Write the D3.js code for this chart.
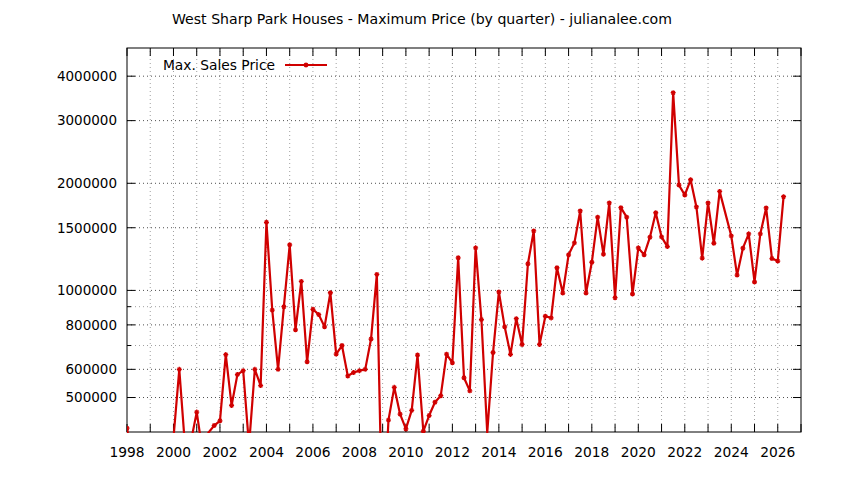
<!DOCTYPE html>
<html>
<head>
<meta charset="utf-8">
<script src="https://cdn.jsdelivr.net/npm/d3@7/dist/d3.min.js"></script>
<style>
  body { margin: 0; background: #fff; }
  svg { display: block; font-family: "DejaVu Sans", sans-serif; }
</style>
</head>
<body>
<svg id="chart" width="844" height="480"></svg>
<script>
// Quarter start (decimal year) and the maximum sale price in that quarter.
// Points below 400000 fall under the plot floor and are clipped, as in the original.
const quarters = [
  1998.00, 1998.25, 1998.50, 1998.75, 1999.00, 1999.25, 1999.50, 1999.75,
  2000.00, 2000.25, 2000.50, 2000.75, 2001.00, 2001.25, 2001.50, 2001.75,
  2002.00, 2002.25, 2002.50, 2002.75, 2003.00, 2003.25, 2003.50, 2003.75,
  2004.00, 2004.25, 2004.50, 2004.75, 2005.00, 2005.25, 2005.50, 2005.75,
  2006.00, 2006.25, 2006.50, 2006.75, 2007.00, 2007.25, 2007.50, 2007.75,
  2008.00, 2008.25, 2008.50, 2008.75, 2009.00, 2009.25, 2009.50, 2009.75,
  2010.00, 2010.25, 2010.50, 2010.75, 2011.00, 2011.25, 2011.50, 2011.75,
  2012.00, 2012.25, 2012.50, 2012.75, 2013.00, 2013.25, 2013.50, 2013.75,
  2014.00, 2014.25, 2014.50, 2014.75, 2015.00, 2015.25, 2015.50, 2015.75,
  2016.00, 2016.25, 2016.50, 2016.75, 2017.00, 2017.25, 2017.50, 2017.75,
  2018.00, 2018.25, 2018.50, 2018.75, 2019.00, 2019.25, 2019.50, 2019.75,
  2020.00, 2020.25, 2020.50, 2020.75, 2021.00, 2021.25, 2021.50, 2021.75,
  2022.00, 2022.25, 2022.50, 2022.75, 2023.00, 2023.25, 2023.50,
  2024.00, 2024.25, 2024.50, 2024.75, 2025.00, 2025.25, 2025.50, 2025.75,
  2026.00, 2026.25
];
const maxPrice = [
  410000, 330000, 350000, 320000, 360000, 340000, 375000, 365000,
  385000, 600000, 362000, 376000, 455000, 353000, 398000, 417000,
  430000, 660000, 475000, 580000, 595000, 366000, 600000, 540000,
  1554000, 880000, 600000, 900000, 1343000, 775000, 1060000, 630000,
  885000, 855000, 790000, 985000, 662000, 700000, 575000, 588000,
  595000, 600000, 730000, 1109000, 200000, 432000, 534000, 449000,
  408000, 460000, 658000, 402000, 445000, 485000, 506000, 662000,
  626000, 1235000, 568000, 522000, 1317000, 828000, 398000, 669000,
  990000, 790000, 661000, 833000, 705000, 1188000, 1469000, 705000,
  846000, 837000, 1158000, 983000, 1259000, 1360000, 1672000, 983000,
  1200000, 1606000, 1264000, 1761000, 954000, 1708000, 1606000, 977000,
  1317000, 1259000, 1411000, 1653000, 1414000, 1328000, 3594000, 1977000,
  1854000, 2046000, 1716000, 1232000, 1761000, 1357000, 1898000,
  1423000, 1104000, 1314000, 1442000, 1056000, 1442000, 1705000, 1229000,
  1209000, 1834000
];

const yLabelTicks = [500000, 600000, 800000, 1000000, 1500000, 2000000, 3000000, 4000000];
const yMinorTicks = [700000, 900000];
const xLabelYears = [1998, 2000, 2002, 2004, 2006, 2008, 2010, 2012, 2014, 2016, 2018, 2020, 2022, 2024, 2026];

const titleText = "West Sharp Park Houses - Maximum Price (by quarter) - julianalee.com";
const seriesName = "Max. Sales Price";

const lineColor = "#d00000";
const margin = { left: 127, right: 43, top: 48, bottom: 48 };
const width = 844, height = 480;

const svg = d3.select("#chart");

let x = d3.scaleLinear()
    .domain([1998, 2027])
    .range([margin.left, width - margin.right]);
let y = d3.scaleLog()
    .domain([400000, 4800000])
    .range([height - margin.bottom, margin.top]);

const x0 = x.range()[0], x1 = x.range()[1];
const yb = y.range()[0], yt = y.range()[1];

const data = quarters.map((t, i) => ({ t: t, v: maxPrice[i] }));
const everyYear = d3.range(1998, 2028);

// Grid: yearly verticals, horizontals at labelled and unlabelled y ticks
let grid = svg.append("g").attr("class", "grid");
grid.selectAll(".vgrid")
    .data(everyYear.filter(d => d > 1998 && d < 2027))
    .join("line")
    .attr("x1", d => x(d)).attr("x2", d => x(d))
    .attr("y1", yb).attr("y2", yt)
    .attr("stroke", "#a0a0a0")
    .attr("stroke-dasharray", "1,3");
grid.selectAll(".hgrid")
    .data(yLabelTicks)
    .join("line")
    .attr("x1", x0).attr("x2", x1)
    .attr("y1", d => y(d)).attr("y2", d => y(d))
    .attr("stroke", "#505050")
    .attr("stroke-dasharray", "1,3");
grid.selectAll(".hminor")
    .data(yMinorTicks)
    .join("line")
    .attr("x1", x0).attr("x2", x1)
    .attr("y1", d => y(d)).attr("y2", d => y(d))
    .attr("stroke", "#a0a0a0")
    .attr("stroke-dasharray", "1,3");

// Ticks point inwards and are mirrored on the opposite side
let ticks = svg.append("g").attr("stroke", "#000").attr("stroke-width", 1);
everyYear.filter(d => d <= 2027).forEach(d => {
    ticks.append("line").attr("x1", x(d)).attr("x2", x(d)).attr("y1", yb).attr("y2", yb - 8);
    ticks.append("line").attr("x1", x(d)).attr("x2", x(d)).attr("y1", yt).attr("y2", yt + 8);
});
yLabelTicks.forEach(d => {
    ticks.append("line").attr("x1", x0).attr("x2", x0 + 8).attr("y1", y(d)).attr("y2", y(d));
    ticks.append("line").attr("x1", x1).attr("x2", x1 - 8).attr("y1", y(d)).attr("y2", y(d));
});
yMinorTicks.forEach(d => {
    ticks.append("line").attr("x1", x0).attr("x2", x0 + 4).attr("y1", y(d)).attr("y2", y(d));
    ticks.append("line").attr("x1", x1).attr("x2", x1 - 4).attr("y1", y(d)).attr("y2", y(d));
});

// Tick labels
svg.append("g")
    .selectAll("text")
    .data(yLabelTicks)
    .join("text")
    .attr("x", x0 - 10)
    .attr("y", d => y(d))
    .attr("dy", "0.36em")
    .attr("text-anchor", "end")
    .attr("font-size", "13.5px")
    .attr("fill", "#000")
    .text(d => d3.format("d")(d));
svg.append("g")
    .selectAll("text")
    .data(xLabelYears)
    .join("text")
    .attr("x", d => x(d))
    .attr("y", yb + 25)
    .attr("text-anchor", "middle")
    .attr("font-size", "13.8px")
    .attr("fill", "#000")
    .text(d => d);

// Border
svg.append("rect")
    .attr("x", x0).attr("y", yt)
    .attr("width", x1 - x0).attr("height", yb - yt)
    .attr("fill", "none")
    .attr("stroke", "#000");

// Series, clipped to the plot box
svg.append("clipPath").attr("id", "plot-clip")
    .append("rect")
    .attr("x", x0).attr("y", yt)
    .attr("width", x1 - x0).attr("height", yb - yt + 1);

let plot = svg.append("g").attr("clip-path", "url(#plot-clip)");

const line = d3.line()
    .x(d => x(d.t))
    .y(d => y(d.v));

plot.append("path")
    .datum(data)
    .attr("d", line)
    .attr("fill", "none")
    .attr("stroke", lineColor)
    .attr("stroke-width", 2.2)
    .attr("stroke-linejoin", "round");

// small star markers (gnuplot pointtype 3 look)
function star(sel, cx, cy) {
    const r = 2.5;
    sel.append("path")
        .attr("d", `M${cx - r},${cy}H${cx + r}M${cx},${cy - r}V${cy + r}` +
                   `M${cx - r * 0.7},${cy - r * 0.7}L${cx + r * 0.7},${cy + r * 0.7}` +
                   `M${cx - r * 0.7},${cy + r * 0.7}L${cx + r * 0.7},${cy - r * 0.7}`)
        .attr("stroke", lineColor)
        .attr("stroke-width", 1.3)
        .attr("fill", "none");
}
data.filter(d => d.v >= y.domain()[0]).forEach(d => star(plot, x(d.t), y(d.v)));

// Key
let key = svg.append("g");
key.append("text")
    .attr("x", 275).attr("y", 70)
    .attr("text-anchor", "end")
    .attr("font-size", "13.8px")
    .attr("fill", "#000")
    .text(seriesName);
key.append("line")
    .attr("x1", 285).attr("x2", 327)
    .attr("y1", 65).attr("y2", 65)
    .attr("stroke", lineColor)
    .attr("stroke-width", 2.2);
star(key, 306, 65);

// Title
svg.append("text")
    .attr("x", width / 2)
    .attr("y", 24)
    .attr("text-anchor", "middle")
    .attr("font-size", "14.1px")
    .attr("fill", "#000")
    .text(titleText);
</script>
</body>
</html>
